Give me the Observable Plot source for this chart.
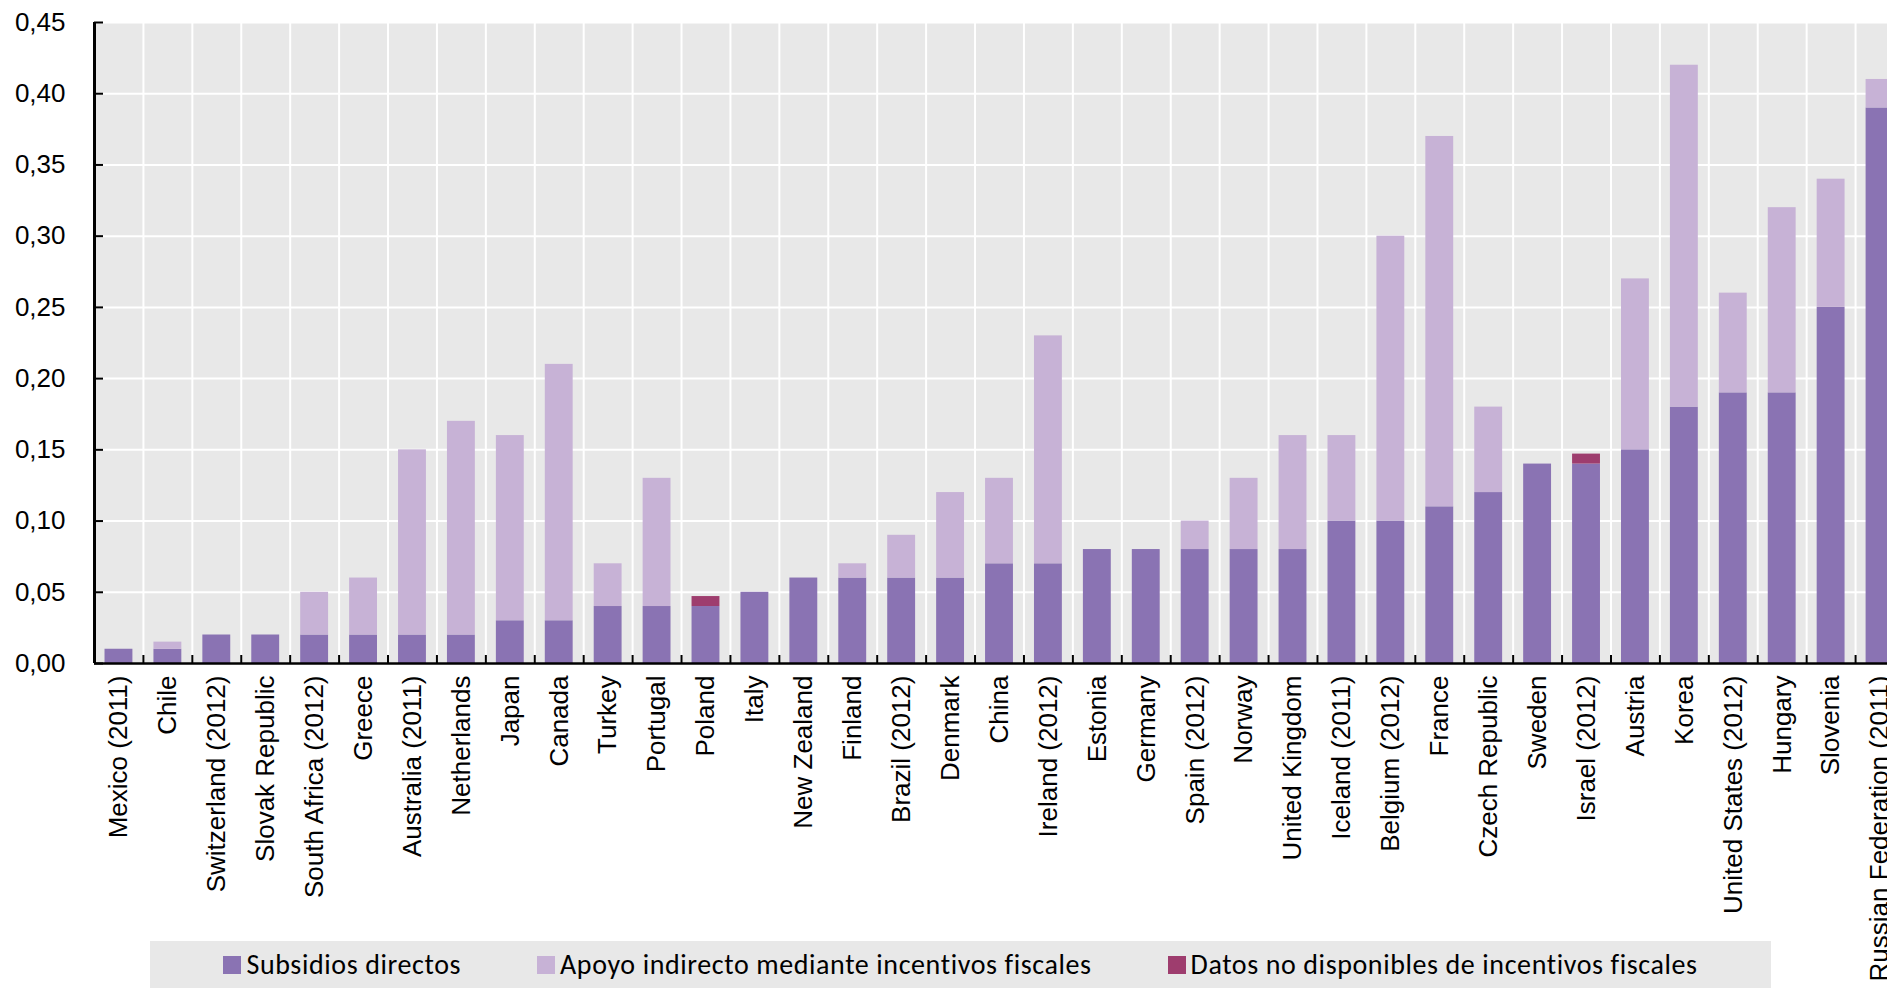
<!DOCTYPE html>
<html>
<head>
<meta charset="utf-8">
<script src="https://cdn.jsdelivr.net/npm/d3@7"></script>
<script src="https://cdn.jsdelivr.net/npm/@observablehq/plot@0.6"></script>
<style>
  html, body { margin: 0; padding: 0; background: #fff; overflow: hidden; }
  #chart svg { display: block; overflow: visible; }
  #legend {
    margin-left: 150px; width: 1621px; height: 47px; background: #E8E8E8;
    display: flex; align-items: center; justify-content: center; gap: 76px;
    font-family: Carlito, Calibri, Lato, sans-serif; font-size: 28px; letter-spacing: 0.6px; color: #000;
  }
  #legend .item { display: flex; align-items: center; white-space: nowrap; }
  #legend .sw { width: 18px; height: 18px; margin-right: 5px; display: inline-block; }
</style>
</head>
<body>
<div id="chart"></div>
<div id="legend"></div>
<script>
const countries = ["Mexico (2011)","Chile","Switzerland (2012)","Slovak Republic","South Africa (2012)","Greece","Australia (2011)","Netherlands","Japan","Canada","Turkey","Portugal","Poland","Italy","New Zealand","Finland","Brazil (2012)","Denmark","China","Ireland (2012)","Estonia","Germany","Spain (2012)","Norway","United Kingdom","Iceland (2011)","Belgium (2012)","France","Czech Republic","Sweden","Israel (2012)","Austria","Korea","United States (2012)","Hungary","Slovenia","Russian Federation (2011)"];
const direct = [0.01,0.01,0.02,0.02,0.02,0.02,0.02,0.02,0.03,0.03,0.04,0.04,0.04,0.05,0.06,0.06,0.06,0.06,0.07,0.07,0.08,0.08,0.08,0.08,0.08,0.10,0.10,0.11,0.12,0.14,0.14,0.15,0.18,0.19,0.19,0.25,0.39];
const indirect = [0,0.005,0,0,0.03,0.04,0.13,0.15,0.13,0.18,0.03,0.09,0,0,0,0.01,0.03,0.06,0.06,0.16,0,0,0.02,0.05,0.08,0.06,0.20,0.26,0.06,0,0,0.12,0.24,0.07,0.13,0.09,0.02];
const notAvailable = [0,0,0,0,0,0,0,0,0,0,0,0,0.007,0,0,0,0,0,0,0,0,0,0,0,0,0,0,0,0,0,0.007,0,0,0,0,0,0];
const seriesNames = ["Subsidios directos","Apoyo indirecto mediante incentivos fiscales","Datos no disponibles de incentivos fiscales"];
const seriesColors = ["#8A73B3","#C7B2D6","#9E3D6E"];
const yTicks = [0,0.05,0.10,0.15,0.20,0.25,0.30,0.35,0.40,0.45];

const seriesValues = [direct, indirect, notAvailable];
const rows = countries.flatMap((c, i) => seriesNames.map((s, k) => ({country: c, series: s, value: seriesValues[k][i]})));

const xRange = [94, 1904];
const half = (xRange[1] - xRange[0]) / countries.length / 2;
const fmt = d => d.toFixed(2).replace(".", ",");

const chart = Plot.plot({
  width: 1887, height: 941,
  marginTop: 22, marginBottom: 278, marginLeft: 94, marginRight: 0,
  style: {fontFamily: "'Liberation Sans', Arial, sans-serif", fontSize: "26px", color: "#000", background: "transparent", overflow: "visible"},
  x: {domain: countries, range: xRange, paddingInner: 0.43, paddingOuter: 0.215, label: null},
  y: {domain: [0, 0.45], label: null},
  color: {domain: seriesNames, range: seriesColors},
  marks: [
    Plot.frame({fill: "#E8E8E8"}),
    Plot.ruleY(yTicks, {stroke: "white", strokeWidth: 2}),
    Plot.ruleX(countries, {dx: -half, stroke: "white", strokeWidth: 2}),
    Plot.barY(rows, {x: "country", y: "value", fill: "series"}),
    Plot.ruleY([0], {stroke: "black", strokeWidth: 2.5}),
    Plot.ruleX([countries[0]], {dx: -half, y1: 0, y2: 0.45, stroke: "black", strokeWidth: 3}),
    Plot.axisY(yTicks, {tickSize: 0, tickPadding: 29, tickFormat: fmt, label: null, fontSize: 26}),
    Plot.axisY(yTicks, {tickSize: 9, dx: 9, tickFormat: () => "", label: null, strokeWidth: 2}),
    Plot.axisX(countries, {tickSize: 0, tickRotate: -90, tickPadding: 12, label: null, fontSize: 26}),
    Plot.axisX(countries, {tickSize: 8, dy: -8, dx: -half, tickFormat: () => "", label: null, strokeWidth: 2})
  ]
});
document.getElementById("chart").appendChild(chart);

const legend = document.getElementById("legend");
seriesNames.forEach((s, k) => {
  const item = document.createElement("div");
  item.className = "item";
  const sw = document.createElement("span");
  sw.className = "sw";
  sw.style.background = seriesColors[k];
  const t = document.createElement("span");
  t.textContent = s;
  item.appendChild(sw);
  item.appendChild(t);
  legend.appendChild(item);
});
</script>
</body>
</html>
